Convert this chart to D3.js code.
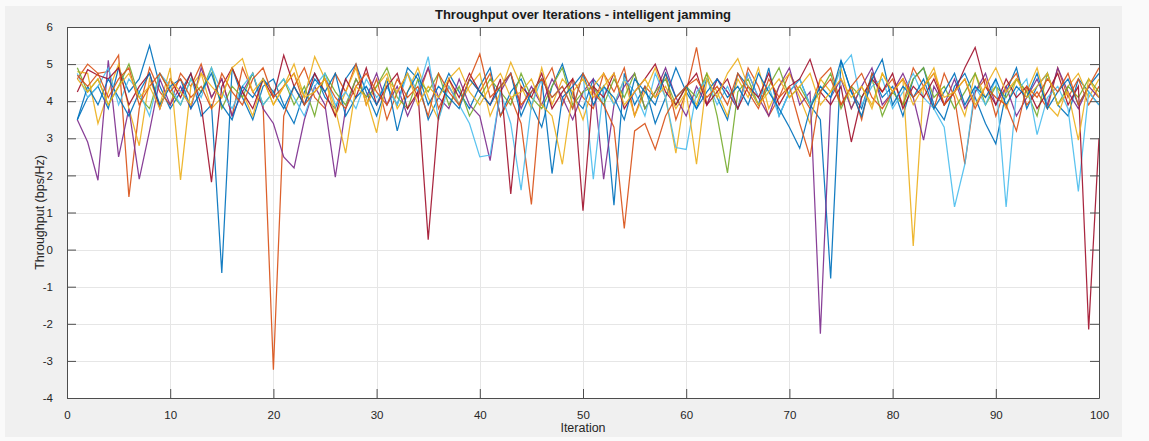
<!DOCTYPE html>
<html>
<head>
<meta charset="utf-8">
<script src="https://cdn.jsdelivr.net/npm/d3@7"></script>
<style>
  html, body { margin: 0; padding: 0; background: #fafafa; }
  svg { display: block; }
  text { font-family: "Liberation Sans", Arial, Helvetica, sans-serif; }
</style>
</head>
<body>
<svg id="chart" width="1149" height="441"></svg>
<script>
// Iteration index shared by every run
const iterations = d3.range(1, 101);

// Throughput per iteration (bps/Hz), one array per run
const run1 = [
  3.5, 4.1, 4.4, 3.8, 4.9, 4.25, 4.6, 5.5, 4.4, 3.8,
  4.25, 4.75, 3.6, 3.9, -0.63, 4.9, 4.1, 3.5, 4.4, 4.6,
  3.9, 3.4, 4.25, 4.75, 4.1, 3.8, 4.6, 5.0, 4.25, 3.6,
  4.4, 3.9, 4.9, 4.6, 3.5, 4.1, 4.75, 4.25, 3.8, 4.4,
  4.9, 3.6, 4.25, 4.6, 3.9, 3.3, 4.4, 5.0, 4.1, 3.8,
  4.6, 4.25, 1.2, 4.75, 3.9, 4.4, 3.4, 4.1, 4.9, 4.25,
  3.8, 4.6, 4.1, 3.5, 4.75, 4.4, 3.9, 4.9, 3.6, 4.25,
  4.6, 3.9, 3.5, -0.78, 5.1, 4.25, 3.8, 4.75, 4.1, 4.4,
  3.6, 4.6, 4.9, 3.9, 3.5, 4.4, 4.75, 4.1, 3.4, 2.85,
  4.25, 4.9, 3.8, 4.4, 4.75, 3.9, 3.6, 4.6, 4.25, 3.9
];
const run2 = [
  4.6, 5.0, 4.75, 4.8, 5.24, 1.42, 3.8, 4.9, 4.25, 3.9,
  4.75, 4.4, 5.0, 4.1, 4.6, 3.6, 4.9, 4.25, 3.9, -3.24,
  3.6, 4.4, 4.9, 4.1, 3.8, 4.75, 4.25, 5.0, 3.9, 4.6,
  3.5, 4.25, 4.75, 4.1, 4.9, 3.8, 4.4, 3.9, 4.6, 4.25,
  4.75, 3.6, 4.1, 3.4, 1.22, 4.4, 4.9, 3.9, 4.6, 4.1,
  3.8, 4.75, 4.25, 4.9, 3.6, 4.4, 4.1, 4.75, 3.5, 4.25,
  5.45, 3.9, 4.6, 4.25, 3.8, 4.9, 4.4, 3.6, 4.1, 4.75,
  4.25, 3.8, 4.6, 4.9, 3.9, 4.4, 3.5, 4.75, 4.25, 4.6,
  3.9, 4.9, 4.4, 3.8, 4.75, 4.1, 2.3, 4.25, 4.6, 3.6,
  4.4, 4.75, 3.9, 4.25, 3.8, 4.9, 4.1, 4.6, 3.9, 4.4
];
const run3 = [
  4.8, 4.75, 3.4, 4.25, 5.0, 3.8, 2.8, 4.6, 3.9, 4.9,
  1.88, 4.4, 4.75, 3.8, 4.1, 4.9, 4.25, 3.6, 4.6, 3.9,
  4.4, 5.0, 4.1, 5.2, 4.6, 3.6, 4.25, 4.9, 3.9, 4.4,
  4.75, 3.8, 4.25, 4.9, 4.1, 3.5, 4.6, 3.9, 4.4, 4.75,
  3.6, 4.25, 5.05, 4.4, 3.8, 4.9, 3.9, 4.6, 4.25, 3.5,
  4.4, 4.75, 3.9, 4.6, 3.6, 4.25, 4.9, 4.1, 2.6, 4.4,
  3.9, 4.75, 4.25, 3.6, 4.6, 4.1, 4.9, 3.8, 4.4, 4.75,
  4.1, 3.4, 4.6, 4.25, 4.9, 3.8, 4.4, 3.9, 4.75, 4.25,
  4.6, 0.1, 4.4, 4.9, 3.9, 4.25, 3.6, 4.75, 4.1, 4.4,
  3.8, 4.6, 4.25, 4.9, 3.9, 3.6, 4.4, 4.75, 4.1, 4.6
];
const run4 = [
  3.5, 2.9, 1.87, 5.1, 2.5, 3.8, 1.9, 3.2, 4.6, 3.9,
  4.4, 3.8, 4.9, 4.1, 4.6, 3.6, 4.25, 4.75, 3.8, 3.4,
  2.5, 2.2, 3.5, 4.4, 3.9, 1.95, 3.8, 4.6, 4.1, 4.75,
  3.9, 4.4, 3.6, 4.25, 4.9, 4.1, 3.8, 4.6, 3.9, 3.6,
  2.4, 4.25, 4.75, 3.8, 4.4, 3.9, 4.6, 4.1, 3.5, 4.25,
  4.6, 1.9, 3.9, 4.4, 4.75, 3.8, 4.25, 4.9, 4.1, 3.6,
  4.4, 3.9, 4.6, 4.25, 3.8, 4.75, 4.1, 3.6, 4.4, 4.9,
  3.9, 4.25, -2.27, 4.1, 4.6, 3.8, 4.4, 4.9, 3.9, 4.25,
  4.75, 4.1, 2.95, 4.4, 3.9, 4.6, 3.8, 4.25, 4.75, 3.9,
  4.4, 3.6, 4.1, 4.6, 3.9, 4.9, 4.25, 3.8, 4.4, 4.1
];
const run5 = [
  4.9, 4.25, 4.6, 3.9, 4.4, 5.0, 4.1, 3.8, 4.75, 4.25,
  3.9, 4.6, 4.25, 4.9, 3.8, 4.4, 4.1, 4.75, 3.9, 4.25,
  4.6, 3.9, 4.4, 3.6, 4.75, 4.25, 3.9, 4.6, 4.1, 4.4,
  4.9, 4.1, 3.8, 4.6, 4.25, 4.75, 3.9, 4.4, 3.6, 4.1,
  4.6, 4.25, 3.9, 4.75, 4.1, 3.8, 4.4, 4.9, 3.9, 4.25,
  4.4, 3.9, 4.6, 4.1, 4.75, 3.8, 4.25, 4.6, 3.9, 4.4,
  4.1, 4.75, 3.6, 2.07, 4.25, 4.6, 3.9, 4.4, 4.9, 4.1,
  4.4, 3.9, 4.25, 4.75, 3.8, 4.4, 4.1, 4.6, 3.6, 4.25,
  3.9, 4.6, 4.9, 4.1, 4.4, 3.8, 4.25, 4.75, 3.9, 4.4,
  4.1, 4.6, 4.25, 3.6, 4.75, 3.9, 4.4, 4.1, 4.6, 4.25
];
const run6 = [
  4.75, 4.1, 4.4, 4.9, 3.9, 4.6, 4.25, 3.6, 4.75, 4.4,
  3.9, 4.6, 4.1, 4.9, 4.25, 3.8, 4.4, 4.75, 3.9, 4.25,
  4.6, 4.1, 3.6, 4.4, 4.75, 3.9, 4.25, 3.8, 4.6, 4.1,
  4.4, 3.9, 4.75, 4.25, 5.2, 3.5, 4.4, 3.9, 3.4, 2.5,
  2.55, 4.25, 3.4, 1.6, 3.9, 4.6, 4.1, 4.4, 3.8, 4.75,
  1.9, 4.4, 3.9, 4.6, 4.25, 3.6, 4.75, 4.1, 2.75, 2.7,
  4.25, 4.6, 3.9, 4.4, 3.8, 4.75, 4.1, 4.4, 3.6, 4.25,
  4.6, 3.9, 4.4, 4.1, 4.9, 5.25, 3.9, 4.4, 4.6, 3.8,
  4.25, 4.75, 4.1, 3.8, 3.3, 1.15, 2.3, 4.4, 3.9, 4.6,
  1.15, 4.25, 4.6, 3.1, 4.1, 4.4, 3.8, 1.57, 4.25, 3.9
];
const run7 = [
  4.25, 4.85, 4.7, 4.6, 4.9, 3.9, 4.4, 4.75, 3.8, 4.6,
  4.1, 4.75, 3.9, 1.82, 4.4, 4.9, 4.25, 3.8, 4.6, 4.1,
  5.24, 4.4, 3.9, 4.75, 4.25, 3.6, 4.6, 4.1, 4.9, 3.9,
  4.4, 4.75, 3.8, 4.25, 0.27, 3.6, 4.6, 4.1, 4.75, 4.25,
  3.9, 4.6, 1.5, 4.4, 4.1, 4.75, 3.8, 4.25, 4.6, 1.05,
  4.4, 4.1, 4.75, 3.8, 4.25, 4.6, 5.0, 4.25, 3.9, 4.4,
  4.75, 3.9, 4.25, 4.6, 3.8, 4.4, 4.1, 4.75, 3.9, 4.4,
  4.6, 5.13, 4.25, 3.9, 4.4, 2.9, 4.1, 4.6, 4.25, 4.75,
  3.8, 4.4, 4.1, 4.6, 3.9, 4.25, 4.9, 5.45, 4.4, 3.9,
  4.6, 4.1, 4.4, 3.8, 4.25, 4.75, 3.9, 4.4, -2.15, 3.0
];
const run8 = [
  3.5, 4.4, 3.9, 4.6, 4.1, 3.6, 4.25, 4.75, 3.9, 4.4,
  4.6, 3.8, 4.25, 4.75, 3.9, 3.5, 4.4, 4.1, 4.6, 4.25,
  3.8, 4.4, 3.9, 4.6, 4.25, 4.75, 3.6, 4.1, 4.4, 3.9,
  4.6, 3.2, 4.25, 4.75, 3.9, 4.4, 4.1, 3.8, 4.6, 4.25,
  3.9, 4.4, 4.75, 3.6, 4.25, 4.6, 2.05, 4.1, 4.4, 4.75,
  3.9, 4.4, 4.1, 3.5, 4.6, 4.25, 3.9, 4.75, 4.1, 4.4,
  3.8, 4.25, 4.6, 4.1, 4.4, 3.9, 4.75, 4.25, 3.8, 3.3,
  2.73, 3.8, 4.4, 4.1, 5.1, 4.25, 3.6, 4.6, 5.13, 3.9,
  4.4, 4.1, 4.6, 3.8, 4.25, 4.75, 3.9, 4.4, 4.1, 4.6,
  3.9, 4.4, 4.1, 4.75, 3.8, 4.25, 4.6, 3.9, 4.4, 4.75
];
const run9 = [
  4.7, 4.4, 4.75, 4.1, 4.6, 4.9, 3.9, 4.4, 4.75, 4.25,
  4.6, 4.1, 4.4, 3.8, 4.75, 4.25, 3.9, 4.6, 4.9, 4.1,
  4.4, 4.75, 3.9, 4.25, 4.6, 4.1, 3.8, 4.4, 4.75, 4.25,
  3.9, 4.6, 4.1, 4.4, 3.6, 4.75, 4.25, 3.9, 4.6, 5.27,
  4.1, 4.4, 4.75, 3.9, 4.25, 4.6, 4.1, 4.4, 3.8, 4.75,
  4.25, 3.9, 3.3, 0.57, 3.2, 3.4, 2.7, 3.6, 4.1, 4.4,
  4.6, 4.1, 4.4, 3.9, 4.75, 4.25, 3.8, 4.6, 4.1, 4.4,
  3.4, 2.5, 4.25, 4.6, 3.9, 4.4, 4.75, 4.1, 3.8, 4.25,
  4.6, 4.1, 4.4, 4.75, 3.9, 4.25, 4.6, 3.8, 4.4, 4.1,
  3.9, 3.2, 4.4, 4.1, 4.6, 4.25, 4.75, 3.9, 4.4, 4.9
];
const run10 = [
  4.6, 4.25, 4.6, 3.9, 4.4, 4.75, 4.1, 4.4, 3.8, 4.6,
  4.25, 3.9, 4.75, 4.4, 4.1, 4.9, 5.15, 4.25, 4.6, 3.9,
  4.4, 4.75, 4.1, 4.25, 4.6, 3.8, 2.6, 4.4, 4.1, 3.15,
  4.6, 4.25, 4.75, 3.9, 4.4, 4.1, 4.6, 4.9, 4.25, 3.9,
  4.4, 4.75, 4.1, 4.25, 4.6, 3.9, 3.6, 2.3, 4.25, 4.6,
  4.1, 4.4, 4.75, 3.9, 4.25, 4.6, 4.1, 4.4, 3.8, 4.25,
  2.3, 4.6, 4.1, 4.75, 5.15, 4.4, 3.9, 4.25, 4.6, 4.1,
  4.4, 4.75, 3.9, 4.25, 4.6, 4.1, 4.4, 3.8, 4.75, 4.25,
  4.6, 3.9, 4.4, 4.75, 4.1, 4.25, 4.6, 3.9, 4.4, 4.9,
  4.25, 4.6, 4.1, 4.4, 4.75, 3.9, 4.25, 2.95, 4.6, 4.1
];

const runs = [run1, run2, run3, run4, run5, run6, run7, run8, run9, run10];

// Default line colour order, cycled over the runs
const lineColors = ["#0072BD", "#D95319", "#EDB120", "#7E2F8E", "#77AC30", "#4DBEEE", "#A2142F"];

const xTicks = [0, 10, 20, 30, 40, 50, 60, 70, 80, 90, 100];
const yTicks = [-4, -3, -2, -1, 0, 1, 2, 3, 4, 5, 6];

const titleText = "Throughput over Iterations - intelligent jamming";
const xLabelText = "Iteration";
const yLabelText = "Throughput (bps/Hz)";

const svg = d3.select("#chart");

// Figure panel
svg.append("rect").attr("x", 5).attr("y", 6).attr("width", 1117).attr("height", 431)
  .attr("fill", "#f0f0f0");

const plot = { left: 67, right: 1099, top: 27, bottom: 398 };

const x = d3.scaleLinear().domain([0, 100]).range([plot.left, plot.right]);
const y = d3.scaleLinear().domain([-4, 6]).range([plot.bottom, plot.top]);

// Axes background
svg.append("rect")
  .attr("x", plot.left).attr("y", plot.top)
  .attr("width", plot.right - plot.left).attr("height", plot.bottom - plot.top)
  .attr("fill", "#ffffff");

// Grid
const grid = svg.append("g").attr("stroke", "#e6e6e6").attr("stroke-width", 1);
grid.selectAll("line.gx").data(xTicks.slice(1, -1)).join("line")
  .attr("x1", d => Math.round(x(d)) + 0.5).attr("x2", d => Math.round(x(d)) + 0.5)
  .attr("y1", plot.top).attr("y2", plot.bottom);
grid.selectAll("line.gy").data(yTicks.slice(1, -1)).join("line")
  .attr("y1", d => Math.round(y(d)) + 0.5).attr("y2", d => Math.round(y(d)) + 0.5)
  .attr("x1", plot.left).attr("x2", plot.right);

// Data lines
const line = d3.line()
  .x((d, i) => x(iterations[i]))
  .y(d => y(d));

svg.append("clipPath").attr("id", "plotClip").append("rect")
  .attr("x", plot.left).attr("y", plot.top)
  .attr("width", plot.right - plot.left).attr("height", plot.bottom - plot.top);

svg.append("g").attr("clip-path", "url(#plotClip)")
  .selectAll("path").data(runs).join("path")
  .attr("d", line)
  .attr("fill", "none")
  .attr("stroke", (d, i) => lineColors[i % lineColors.length])
  .attr("stroke-width", 1.25)
  .attr("stroke-linejoin", "miter")
  .attr("opacity", 0.92);

// Axes with inward ticks on all four sides
const tickLen = 9;
const axisColor = "#4d4d4d";
const labelColor = "#262626";
const plainNum = d => String(d);

const xAxisBottom = d3.axisBottom(x).tickValues(xTicks).tickFormat(plainNum).tickSizeInner(-tickLen).tickSizeOuter(0).tickPadding(tickLen + 4);
const xAxisTop = d3.axisTop(x).tickValues(xTicks).tickSizeInner(-tickLen).tickSizeOuter(0).tickFormat("");
const yAxisLeft = d3.axisLeft(y).tickValues(yTicks).tickFormat(plainNum).tickSizeInner(-tickLen).tickSizeOuter(0).tickPadding(tickLen + 5);
const yAxisRight = d3.axisRight(y).tickValues(yTicks).tickSizeInner(-tickLen).tickSizeOuter(0).tickFormat("");

function styleAxis(g) {
  g.select(".domain").attr("stroke", axisColor).attr("stroke-width", 1);
  g.selectAll(".tick line").attr("stroke", axisColor).attr("stroke-width", 1);
  g.selectAll(".tick text").attr("fill", labelColor).attr("font-size", 11.5)
    .attr("font-family", "'Liberation Sans', Arial, sans-serif");
}

svg.append("g").attr("transform", `translate(0,${plot.bottom})`).call(xAxisBottom).call(styleAxis);
svg.append("g").attr("transform", `translate(0,${plot.top})`).call(xAxisTop).call(styleAxis);
svg.append("g").attr("transform", `translate(${plot.left},0)`).call(yAxisLeft).call(styleAxis);
svg.append("g").attr("transform", `translate(${plot.right},0)`).call(yAxisRight).call(styleAxis);

// Title and axis labels
svg.append("text")
  .attr("x", (plot.left + plot.right) / 2).attr("y", 19)
  .attr("text-anchor", "middle")
  .attr("font-size", 13).attr("font-weight", "bold").attr("fill", "#1a1a1a")
  .text(titleText);

svg.append("text")
  .attr("x", (plot.left + plot.right) / 2).attr("y", 432)
  .attr("text-anchor", "middle")
  .attr("font-size", 12.5).attr("fill", labelColor)
  .text(xLabelText);

svg.append("text")
  .attr("transform", `translate(44,${(plot.top + plot.bottom) / 2}) rotate(-90)`)
  .attr("text-anchor", "middle")
  .attr("font-size", 12.5).attr("fill", labelColor)
  .text(yLabelText);
</script>
</body>
</html>
